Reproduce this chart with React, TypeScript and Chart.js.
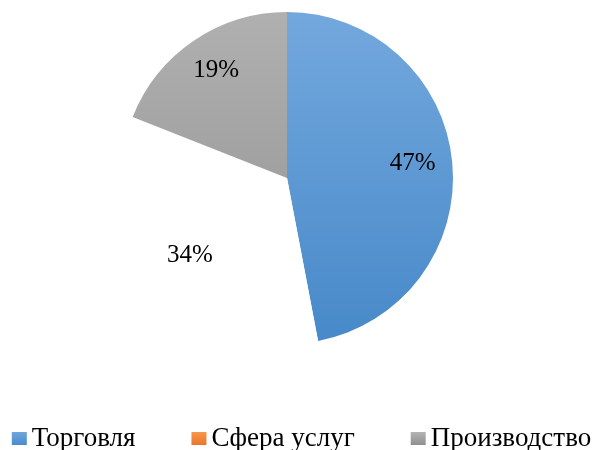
import React, { useEffect, useRef } from "react";
import { Chart, registerables } from "chart.js";

Chart.register(...registerables);

const categories = ["Торговля", "Сфера услуг", "Производство"];
const values = [47, 34, 19];
const percentLabels = ["47%", "34%", "19%"];
const legendTop = ["#6EA6DC", "#F7964A", "#B4B4B4"];
const legendBottom = ["#4B8BCB", "#E8772E", "#8F8F8F"];
const gradientTop = ["#73A8DD", "#FFFFFF", "#B0B0B0"];
const gradientBottom = ["#4789C9", "#FFFFFF", "#919191"];

const SERIF = "'Liberation Serif', 'Times New Roman', serif";

const labelPlugin = {
  id: "pctLabels",
  afterDatasetsDraw(chart: any) {
    const ctx = chart.ctx;
    const meta = chart.getDatasetMeta(0);
    ctx.save();
    ctx.font = "25px " + SERIF;
    ctx.fillStyle = "#000000";
    ctx.textAlign = "center";
    ctx.textBaseline = "middle";
    meta.data.forEach((arc: any, i: number) => {
      const p = arc.getProps(["x", "y", "startAngle", "endAngle", "outerRadius"], true);
      const mid = (p.startAngle + p.endAngle) / 2;
      const r = p.outerRadius * 0.76;
      ctx.fillText(percentLabels[i], p.x + Math.cos(mid) * r, p.y + Math.sin(mid) * r - 3);
    });
    ctx.restore();
  },
};

const legendPlugin = {
  id: "bottomLegend",
  afterDraw(chart: any) {
    const ctx = chart.ctx;
    ctx.save();
    ctx.font = "27px " + SERIF;
    ctx.textBaseline = "alphabetic";
    ctx.textAlign = "left";
    const boxW = 15;
    const boxH = 13;
    const textGap = 5;
    const itemGap = 56;
    const widths = categories.map((t) => boxW + textGap + ctx.measureText(t).width);
    const total = widths.reduce((a, b) => a + b, 0) + itemGap * (categories.length - 1);
    const centerX = chart.width / 2 + 4.5;
    let x = centerX - total / 2;
    const baseline = chart.height - 4;
    const boxTop = baseline - 14;
    categories.forEach((t, i) => {
      const g = ctx.createLinearGradient(0, boxTop, 0, boxTop + boxH);
      g.addColorStop(0, legendTop[i]);
      g.addColorStop(1, legendBottom[i]);
      ctx.fillStyle = g;
      ctx.fillRect(x, boxTop, boxW, boxH);
      ctx.fillStyle = "#000000";
      ctx.fillText(t, x + boxW + textGap, baseline);
      x += widths[i] + itemGap;
    });
    ctx.restore();
  },
};

export default function App() {
  const ref = useRef<HTMLCanvasElement | null>(null);
  useEffect(() => {
    if (!ref.current) return;
    const colorFor = (context: any) => {
      const i = context.dataIndex;
      const chart = context.chart;
      const area = chart.chartArea;
      if (!area || !isFinite(area.top) || !isFinite(area.bottom)) return gradientTop[i];
      const cy = (area.top + area.bottom) / 2;
      const r = Math.min(area.right - area.left, area.bottom - area.top) / 2;
      if (!isFinite(cy) || !isFinite(r) || r <= 0) return gradientTop[i];
      const g = chart.ctx.createLinearGradient(0, cy - r, 0, cy + r);
      g.addColorStop(0, gradientTop[i]);
      g.addColorStop(1, gradientBottom[i]);
      return g;
    };
    const chart = new Chart(ref.current, {
      type: "pie",
      data: {
        labels: categories,
        datasets: [
          {
            data: values,
            backgroundColor: colorFor,
            borderWidth: 0,
          },
        ],
      },
      options: {
        animation: false,
        responsive: false,
        layout: { padding: { top: 12, left: 0, right: 20, bottom: 106 } },
        plugins: {
          tooltip: { enabled: false },
          legend: { display: false },
        },
      },
      plugins: [labelPlugin, legendPlugin],
    });
    return () => chart.destroy();
  }, []);
  return (
    <div style={{ position: "absolute", left: 0, top: 0, width: 594, height: 450, background: "#fff" }}>
      <canvas ref={ref} width={594} height={450} style={{ display: "block" }} />
    </div>
  );
}
